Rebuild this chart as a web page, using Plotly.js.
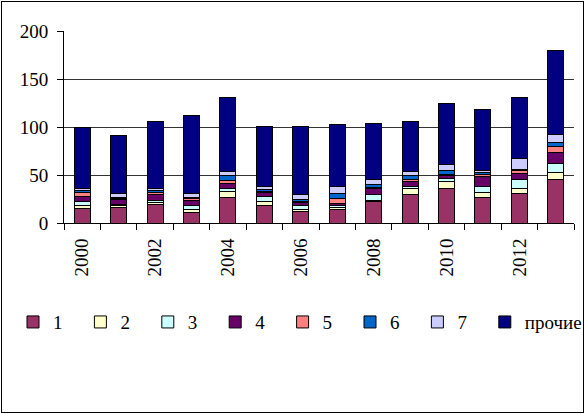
<!DOCTYPE html>
<html>
<head>
<meta charset="utf-8">
<script src="https://cdn.plot.ly/plotly-3.0.1.min.js"></script>
<style>
  html, body { margin: 0; padding: 0; background: #fff; }
  #wrap { position: relative; width: 585px; height: 414px; }
  #chart { position: absolute; left: 0; top: 0; width: 585px; height: 414px; }
  #frame { position: absolute; left: 1px; top: 1px; width: 581px; height: 410px; border: 1px solid #000; pointer-events: none; }
</style>
</head>
<body>
<div id="wrap"><div id="chart"></div><div id="frame"></div></div>
<script>
const years = [2000, 2001, 2002, 2003, 2004, 2005, 2006, 2007, 2008, 2009, 2010, 2011, 2012, 2013];
const seriesNames = ["1", "2", "3", "4", "5", "6", "7", "прочие"];
const s1 = [15, 16, 19, 11, 26.5, 18.5, 12, 14, 22, 29.5, 35.5, 27, 31, 45];
const s2 = [3, 2, 2, 3, 6, 4, 2, 2, 1, 6.5, 8, 4.5, 5, 7.5];
const s3 = [4, 1, 2, 4, 3, 5, 4, 2, 7, 2, 2.5, 7, 9, 9.5];
const s4 = [6, 6, 7, 5, 6, 4, 3, 2, 5.5, 5.5, 3, 10, 6.5, 11];
const s5 = [4, 0.5, 2, 2.5, 2.5, 1, 1, 6, 1.5, 2, 2, 2.5, 3, 6.5];
const s6 = [2, 1, 1.5, 1, 6, 2, 2, 5, 3, 3.5, 4, 1.5, 1.5, 4];
const s7 = [1.5, 4.5, 2.5, 4, 3.5, 3.5, 6, 7, 5, 5, 6, 2.5, 11, 9];
const other = [64.5, 60, 70, 81.5, 77.5, 63, 71, 65, 59, 52, 63, 63, 64, 87.5];
const colors = ["#993366", "#FFFFCC", "#CCFFFF", "#660066", "#FF8080", "#0066CC", "#CCCCFF", "#000080"];
const yTicks = [0, 50, 100, 150, 200];
const xTickYears = [2000, 2002, 2004, 2006, 2008, 2010, 2012];

const allSeries = [s1, s2, s3, s4, s5, s6, s7, other];
const font = "Liberation Serif, Times New Roman, serif";
const W = 585;

const legendId = i => (i === 0 ? "legend" : "legend" + (i + 1));

const traces = allSeries.map((vals, i) => ({
  type: "bar",
  name: seriesNames[i],
  x: years,
  y: vals,
  legend: legendId(i),
  marker: { color: colors[i], line: { color: "#000", width: 1 } },
  hoverinfo: "skip"
}));

const layout = {
  width: W, height: 414,
  margin: { l: 64, r: 11, t: 31, b: 191 },
  barmode: "stack",
  bargap: 0.56,
  paper_bgcolor: "rgba(0,0,0,0)",
  plot_bgcolor: "#fff",
  font: { family: font, size: 19, color: "#000" },
  showlegend: true,
  xaxis: {
    type: "linear",
    range: [1999.5, 2013.5],
    tickmode: "array",
    tickvals: xTickYears,
    ticktext: xTickYears.map(String),
    tickangle: -90,
    ticks: "",
    ticklabelstandoff: 7,
    showgrid: false,
    showline: true, linecolor: "#000", linewidth: 1,
    zeroline: false,
    tickfont: { family: font, size: 19, color: "#000" },
    minor: { tickmode: "linear", tick0: 1999.5, dtick: 1, ticks: "outside", ticklen: 6, tickcolor: "#000", tickwidth: 1, showgrid: false },
    fixedrange: true
  },
  yaxis: {
    range: [0, 200],
    tickmode: "array",
    tickvals: yTicks,
    ticks: "outside", ticklen: 6, tickcolor: "#000",
    ticklabelstandoff: 5,
    showgrid: true, gridcolor: "#333", gridwidth: 1,
    showline: true, linecolor: "#000", linewidth: 1,
    zeroline: false,
    tickfont: { family: font, size: 19, color: "#000" },
    fixedrange: true
  }
};

allSeries.forEach((_, i) => {
  layout[legendId(i)] = {
    orientation: "h",
    xref: "container", yref: "container",
    x: (13 + 67.4 * i) / W, xanchor: "left",
    y: 0.222, yanchor: "middle",
    font: { family: font, size: 19, color: "#000" },
    bgcolor: "rgba(0,0,0,0)",
    itemclick: false, itemdoubleclick: false
  };
});

Plotly.newPlot("chart", traces, layout, { staticPlot: true, displayModeBar: false });
</script>
</body>
</html>
